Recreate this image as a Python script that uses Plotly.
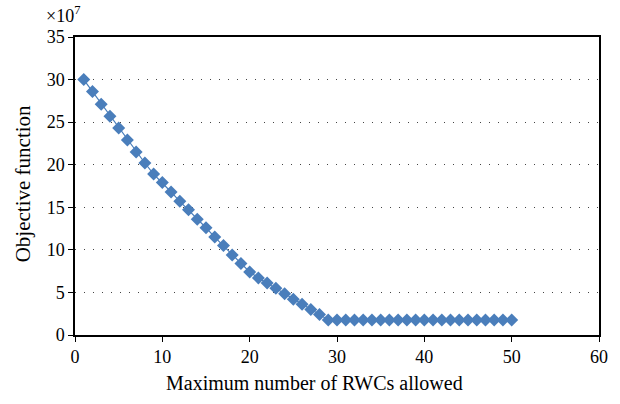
import plotly.graph_objects as go

x_vals = list(range(1, 51))
y_vals = [30.0, 28.6, 27.1, 25.7, 24.3, 22.9, 21.5, 20.2, 18.9, 17.9,
          16.8, 15.7, 14.7, 13.6, 12.6, 11.5, 10.5, 9.4, 8.4, 7.4,
          6.7, 6.1, 5.5, 4.85, 4.2, 3.6, 3.0, 2.4] + [1.76] * 22
x_ticks = [0, 10, 20, 30, 40, 50, 60]
y_ticks = [0, 5, 10, 15, 20, 25, 30, 35]
x_title = "Maximum number of RWCs allowed"
y_title = "Objective function"

color = "#4A7EBB"
font_family = "Liberation Serif"

fig = go.Figure()
fig.add_trace(go.Scatter(
    x=x_vals, y=y_vals, mode="lines+markers",
    line=dict(color=color, width=1.2),
    marker=dict(symbol="diamond", size=10, color=color),
    showlegend=False,
))

fig.update_layout(
    width=620, height=404,
    margin=dict(l=75, r=17, t=37, b=69),
    paper_bgcolor="white", plot_bgcolor="white",
    font=dict(family=font_family, size=18, color="black"),
    xaxis=dict(
        range=[0, 60], tickvals=x_ticks, ticks="outside", ticklen=5,
        tickcolor="black", showline=True, linecolor="black", linewidth=1.5,
        mirror=True, showgrid=False, zeroline=False,
        tickfont=dict(size=18, family=font_family),
    ),
    yaxis=dict(
        range=[0, 35], tickvals=y_ticks, ticks="outside", ticklen=5,
        tickcolor="black", showline=True, linecolor="black", linewidth=1.5,
        mirror=True, showgrid=True, gridcolor="#444444", griddash="1px,8px",
        gridwidth=1, zeroline=False,
        tickfont=dict(size=18, family=font_family),
    ),
    annotations=[
        dict(text="×10<sup>7</sup>", xref="paper", yref="paper",
             x=-0.06, y=1.0, xanchor="left", yanchor="bottom", yshift=9,
             showarrow=False, font=dict(size=18, family=font_family)),
        dict(text=x_title, xref="paper", yref="paper",
             x=0.458, y=0.0, xanchor="center", yanchor="middle", yshift=-48,
             showarrow=False, font=dict(size=20, family=font_family)),
        dict(text=y_title, xref="paper", yref="paper", textangle=-90,
             x=-0.0985, y=0.507, xanchor="center", yanchor="middle",
             showarrow=False, font=dict(size=21, family=font_family)),
    ],
)

fig.write_html("out.html", config={"displayModeBar": False},
               post_script="document.body.style.margin='0';")
